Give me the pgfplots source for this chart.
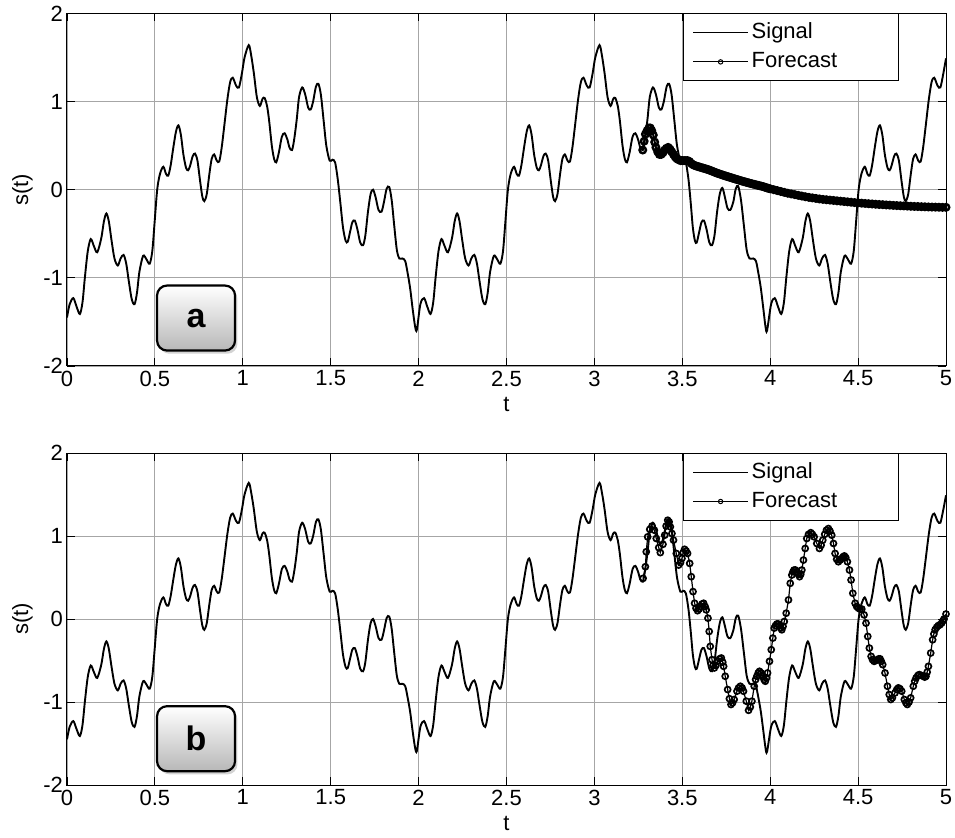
\documentclass[border=0pt]{standalone}
\usepackage{pgfplots}
\pgfplotsset{compat=1.18}
\usepackage{pgfplotstable}
\usepackage{fontspec}
\setmainfont{Liberation Sans}
\usetikzlibrary{shadows}

\pgfplotstableread{
t s
0.000 -1.45
0.015 -1.30
0.036 -1.23
0.055 -1.33
0.073 -1.41
0.088 -1.28
0.102 -0.99
0.118 -0.70
0.135 -0.56
0.153 -0.64
0.172 -0.71
0.195 -0.55
0.210 -0.36
0.224 -0.27
0.238 -0.36
0.253 -0.57
0.270 -0.78
0.289 -0.86
0.305 -0.78
0.322 -0.74
0.337 -0.84
0.351 -1.03
0.368 -1.24
0.384 -1.30
0.398 -1.17
0.412 -0.93
0.433 -0.75
0.452 -0.79
0.470 -0.84
0.485 -0.70
0.498 -0.38
0.513 0.00
0.529 0.18
0.548 0.26
0.563 0.18
0.576 0.16
0.590 0.28
0.605 0.48
0.620 0.66
0.634 0.73
0.648 0.62
0.662 0.40
0.677 0.25
0.689 0.22
0.700 0.27
0.715 0.38
0.728 0.41
0.742 0.33
0.757 0.10
0.770 -0.08
0.781 -0.13
0.795 -0.05
0.810 0.18
0.823 0.35
0.837 0.40
0.852 0.33
0.866 0.32
0.880 0.48
0.895 0.73
0.912 1.02
0.928 1.22
0.943 1.27
0.962 1.18
0.978 1.16
0.995 1.32
1.010 1.50
1.034 1.64
1.048 1.52
1.063 1.32
1.080 1.05
1.097 0.95
1.112 1.03
1.124 1.04
1.138 0.95
1.150 0.78
1.165 0.50
1.178 0.35
1.190 0.31
1.205 0.42
1.222 0.60
1.238 0.64
1.255 0.56
1.265 0.48
1.280 0.45
1.293 0.58
1.307 0.80
1.320 1.05
1.338 1.16
1.355 1.08
1.372 0.93
1.386 0.91
1.400 1.00
1.416 1.17
1.430 1.20
1.444 1.08
1.460 0.78
1.475 0.50
1.494 0.33
1.510 0.34
1.525 0.31
1.540 0.12
1.555 -0.15
1.570 -0.43
1.585 -0.58
1.597 -0.59
1.610 -0.48
1.623 -0.37
1.637 -0.35
1.652 -0.45
1.668 -0.60
1.684 -0.63
1.697 -0.52
1.712 -0.25
1.727 -0.05
1.741 0.00
1.756 -0.09
1.772 -0.23
1.789 -0.25
1.803 -0.14
1.818 0.01
1.833 0.03
1.847 -0.12
1.861 -0.40
1.876 -0.68
1.890 -0.78
1.908 -0.78
1.924 -0.81
1.938 -0.95
1.952 -1.12
1.966 -1.35
1.980 -1.55
1.990 -1.59
2.010 -1.30
2.031 -1.23
2.050 -1.33
2.068 -1.41
2.083 -1.28
2.097 -0.99
2.113 -0.70
2.130 -0.56
2.148 -0.64
2.167 -0.71
2.190 -0.55
2.205 -0.36
2.219 -0.27
2.233 -0.36
2.248 -0.57
2.265 -0.78
2.284 -0.86
2.300 -0.78
2.317 -0.74
2.332 -0.84
2.346 -1.03
2.363 -1.24
2.379 -1.30
2.393 -1.17
2.407 -0.93
2.428 -0.75
2.447 -0.79
2.465 -0.84
2.480 -0.70
2.493 -0.38
2.508 0.00
2.524 0.18
2.543 0.26
2.558 0.18
2.571 0.16
2.585 0.28
2.600 0.48
2.615 0.66
2.629 0.73
2.643 0.62
2.657 0.40
2.672 0.25
2.684 0.22
2.695 0.27
2.710 0.38
2.723 0.41
2.737 0.33
2.752 0.10
2.765 -0.08
2.776 -0.13
2.790 -0.05
2.805 0.18
2.818 0.35
2.832 0.40
2.847 0.33
2.861 0.32
2.875 0.48
2.890 0.73
2.907 1.02
2.923 1.22
2.938 1.27
2.957 1.18
2.973 1.16
2.990 1.32
3.005 1.50
3.029 1.64
3.043 1.52
3.058 1.32
3.075 1.05
3.092 0.95
3.107 1.03
3.119 1.04
3.133 0.95
3.145 0.78
3.160 0.50
3.173 0.35
3.185 0.31
3.200 0.42
3.217 0.60
3.233 0.64
3.250 0.56
3.260 0.48
3.275 0.45
3.288 0.58
3.302 0.80
3.315 1.05
3.333 1.16
3.350 1.08
3.367 0.93
3.381 0.91
3.395 1.00
3.411 1.17
3.425 1.20
3.439 1.08
3.455 0.78
3.470 0.50
3.489 0.33
3.505 0.34
3.520 0.31
3.535 0.12
3.548 -0.15
3.560 -0.43
3.572 -0.58
3.582 -0.60
3.596 -0.48
3.609 -0.37
3.623 -0.35
3.638 -0.45
3.654 -0.60
3.669 -0.63
3.683 -0.52
3.698 -0.25
3.713 -0.05
3.728 0.02
3.743 -0.09
3.757 -0.21
3.773 -0.23
3.790 -0.14
3.804 0.01
3.818 0.04
3.834 -0.12
3.850 -0.40
3.866 -0.68
3.882 -0.78
3.903 -0.78
3.919 -0.81
3.933 -0.95
3.947 -1.12
3.961 -1.35
3.973 -1.55
3.982 -1.60
4.005 -1.30
4.026 -1.23
4.045 -1.33
4.063 -1.41
4.078 -1.28
4.092 -0.99
4.108 -0.70
4.125 -0.56
4.143 -0.64
4.162 -0.71
4.185 -0.55
4.200 -0.36
4.214 -0.27
4.228 -0.36
4.243 -0.57
4.260 -0.78
4.279 -0.86
4.295 -0.78
4.312 -0.74
4.327 -0.84
4.341 -1.03
4.358 -1.24
4.374 -1.30
4.388 -1.17
4.402 -0.93
4.423 -0.75
4.442 -0.79
4.460 -0.84
4.475 -0.70
4.488 -0.38
4.503 0.00
4.519 0.18
4.538 0.26
4.553 0.18
4.566 0.16
4.580 0.28
4.595 0.48
4.610 0.66
4.624 0.73
4.638 0.62
4.652 0.40
4.667 0.25
4.679 0.22
4.690 0.27
4.705 0.38
4.718 0.41
4.732 0.33
4.747 0.10
4.760 -0.08
4.771 -0.13
4.785 -0.05
4.800 0.18
4.813 0.35
4.827 0.40
4.842 0.33
4.856 0.32
4.870 0.48
4.885 0.73
4.902 1.02
4.918 1.22
4.933 1.27
4.952 1.18
4.968 1.16
4.985 1.32
5.000 1.49
}\signal

\pgfplotstableread{
t s
3.275 0.45
3.283 0.55
3.290 0.63
3.300 0.67
3.310 0.70
3.318 0.70
3.326 0.67
3.335 0.62
3.343 0.54
3.350 0.48
3.360 0.43
3.370 0.40
3.380 0.40
3.390 0.42
3.400 0.45
3.410 0.47
3.420 0.48
3.430 0.46
3.440 0.43
3.450 0.40
3.460 0.37
3.470 0.35
3.480 0.34
3.490 0.33
3.500 0.33
3.510 0.33
3.520 0.33
3.530 0.33
3.540 0.32
3.550 0.30
3.560 0.285
3.570 0.275
3.580 0.268
3.590 0.262
3.600 0.256
3.610 0.250
3.620 0.244
3.630 0.238
3.640 0.232
3.650 0.226
3.660 0.218
3.670 0.210
3.680 0.202
3.690 0.194
3.700 0.186
3.710 0.180
3.720 0.173
3.730 0.166
3.740 0.160
3.750 0.153
3.760 0.147
3.770 0.141
3.780 0.135
3.790 0.128
3.800 0.122
3.810 0.116
3.820 0.110
3.830 0.104
3.840 0.098
3.850 0.092
3.860 0.087
3.870 0.081
3.880 0.076
3.890 0.070
3.900 0.065
3.910 0.060
3.920 0.055
3.930 0.050
3.940 0.045
3.950 0.040
3.960 0.035
3.970 0.028
3.980 0.022
3.990 0.015
4.00 0.010
4.02 0.000
4.04 -0.010
4.06 -0.020
4.08 -0.030
4.10 -0.040
4.12 -0.048
4.14 -0.056
4.16 -0.064
4.18 -0.072
4.20 -0.080
4.22 -0.087
4.24 -0.093
4.26 -0.099
4.28 -0.105
4.30 -0.110
4.32 -0.114
4.34 -0.118
4.36 -0.122
4.38 -0.126
4.40 -0.130
4.42 -0.134
4.44 -0.138
4.46 -0.142
4.48 -0.146
4.50 -0.150
4.52 -0.153
4.54 -0.156
4.56 -0.159
4.58 -0.162
4.60 -0.165
4.62 -0.168
4.64 -0.170
4.66 -0.173
4.68 -0.175
4.70 -0.178
4.72 -0.180
4.74 -0.182
4.76 -0.184
4.78 -0.186
4.80 -0.188
4.82 -0.190
4.84 -0.191
4.86 -0.193
4.88 -0.194
4.90 -0.196
4.92 -0.197
4.94 -0.198
4.96 -0.199
4.98 -0.200
5.00 -0.200
}\forecasta

\pgfplotstableread{
t s
3.277 0.49
3.290 0.63
3.295 0.81
3.303 0.99
3.315 1.08
3.328 1.12
3.341 1.07
3.352 0.97
3.366 0.86
3.375 0.80
3.390 0.90
3.400 1.01
3.408 1.12
3.417 1.19
3.425 1.17
3.432 1.11
3.441 1.03
3.450 0.95
3.466 0.79
3.479 0.65
3.490 0.68
3.498 0.73
3.505 0.80
3.513 0.84
3.522 0.82
3.530 0.79
3.542 0.67
3.551 0.51
3.561 0.33
3.570 0.19
3.578 0.13
3.587 0.10
3.595 0.12
3.602 0.15
3.612 0.18
3.621 0.19
3.630 0.15
3.636 0.11
3.646 0.01
3.653 -0.15
3.659 -0.33
3.669 -0.49
3.675 -0.56
3.682 -0.59
3.691 -0.56
3.700 -0.51
3.712 -0.48
3.722 -0.47
3.730 -0.52
3.735 -0.57
3.744 -0.69
3.758 -0.85
3.768 -0.96
3.777 -1.03
3.786 -1.01
3.795 -0.97
3.811 -0.87
3.820 -0.83
3.830 -0.81
3.840 -0.83
3.848 -0.87
3.864 -0.99
3.877 -1.10
3.887 -1.06
3.896 -0.99
3.909 -0.81
3.917 -0.73
3.924 -0.69
3.932 -0.65
3.939 -0.63
3.948 -0.65
3.958 -0.69
3.965 -0.73
3.972 -0.75
3.979 -0.71
3.985 -0.65
3.996 -0.51
4.006 -0.37
4.015 -0.23
4.023 -0.11
4.030 -0.08
4.038 -0.06
4.046 -0.06
4.053 -0.08
4.060 -0.11
4.066 -0.13
4.073 -0.09
4.080 -0.03
4.091 0.07
4.104 0.23
4.114 0.43
4.123 0.53
4.130 0.57
4.136 0.59
4.144 0.59
4.152 0.57
4.160 0.54
4.167 0.51
4.174 0.54
4.180 0.59
4.189 0.71
4.199 0.85
4.208 0.97
4.218 1.02
4.231 1.04
4.240 1.02
4.250 0.99
4.265 0.91
4.280 0.85
4.290 0.89
4.299 0.95
4.310 1.02
4.320 1.07
4.331 1.09
4.340 1.06
4.350 1.01
4.360 0.91
4.369 0.79
4.378 0.72
4.388 0.69
4.397 0.71
4.407 0.73
4.415 0.75
4.422 0.76
4.430 0.74
4.439 0.69
4.451 0.59
4.460 0.47
4.470 0.31
4.483 0.19
4.492 0.15
4.502 0.13
4.511 0.12
4.521 0.12
4.534 0.05
4.545 -0.05
4.555 -0.21
4.564 -0.35
4.574 -0.45
4.582 -0.49
4.591 -0.51
4.600 -0.50
4.610 -0.49
4.618 -0.48
4.625 -0.48
4.632 -0.51
4.640 -0.55
4.653 -0.65
4.667 -0.81
4.677 -0.91
4.686 -0.97
4.695 -0.95
4.710 -0.89
4.720 -0.85
4.729 -0.83
4.738 -0.84
4.748 -0.87
4.763 -0.97
4.772 -1.01
4.780 -1.03
4.790 -1.00
4.799 -0.95
4.814 -0.81
4.822 -0.75
4.830 -0.71
4.840 -0.68
4.848 -0.67
4.860 -0.68
4.871 -0.69
4.879 -0.70
4.886 -0.69
4.893 -0.64
4.900 -0.57
4.913 -0.41
4.924 -0.25
4.931 -0.18
4.938 -0.13
4.947 -0.10
4.956 -0.08
4.965 -0.07
4.975 -0.05
4.983 -0.02
4.989 0.00
5.000 0.06
}\forecastb

\tikzset{
  lab/.style={draw=black, line width=1.1pt, rounded corners=5pt, top color=white, bottom color=black!28,
    minimum width=39pt, minimum height=32.5pt, inner sep=0pt,
    drop shadow={shadow xshift=1.2pt, shadow yshift=-1.6pt, opacity=0.35},
    font=\fontsize{17}{19}\selectfont\bfseries},
}

\pgfplotsset{
  panel/.style={
    scale only axis,
    width=439.5pt,
    xmin=0, xmax=5, ymin=-2, ymax=2,
    xtick={0,0.5,1,1.5,2,2.5,3,3.5,4,4.5,5},
    xticklabels={0,0.5,1,1.5,2,2.5,3,3.5,4,4.5,5},
    ytick={-2,-1,0,1,2},
    yticklabels={-2,-1,0,1,2},
    tick pos=both,
    tick align=inside,
    major tick length=4pt,
    tick style={black, line width=0.4pt},
    axis line style={line width=0.5pt},
    grid=major,
    major grid style={black!35, line width=0.45pt},
    ticklabel style={font=\fontsize{11}{13}\selectfont},
    xticklabel style={yshift=1.2pt},
    yticklabel style={xshift=1.5pt},
    label style={font=\fontsize{11}{13}\selectfont},
    xlabel={t}, ylabel={s(t)},
    legend cell align=left,
    legend image code/.code={\draw[mark repeat=2,mark phase=2,##1,line width=0.6pt,mark size=1.1pt,mark options={line width=0.5pt}] plot coordinates {(0pt,0pt) (13.75pt,0pt) (27.5pt,0pt)};},
    legend style={at={(0.7008,1)}, anchor=north west, draw=black, line width=0.5pt,
      inner xsep=4.5pt, inner ysep=2.25pt, row sep=0pt,
      font=\fontsize{11}{13}\selectfont,
      nodes={inner xsep=1.5pt, inner ysep=2pt, text height=8pt, text depth=2.5pt}},
  },
  sig/.style={black, line width=0.95pt, smooth, tension=0.5, no marks},
  fca/.style={black, line width=1pt, mark=o, mark size=1.6pt, mark options={line width=1.25pt, solid}},
  fcb/.style={black, line width=0.6pt, mark=o, mark size=1.5pt, mark options={line width=0.85pt, solid}},
}

\begin{document}
\begin{tikzpicture}
\path[use as bounding box] (0,0) rectangle (477.5pt,418.5pt);

\begin{axis}[panel, height=176.3pt, at={(33.5pt,235.5pt)}, anchor=south west,
  xlabel style={at={(axis description cs:0.5,-0.108)}, anchor=center},
  ylabel style={at={(axis description cs:-0.0506,0.5)}, anchor=center}]
\addplot[sig] table[x=t,y=s] {\signal};
\addlegendentry{\makebox[67.5pt][l]{Signal}}
\addplot[fca] table[x=t,y=s] {\forecasta};
\addlegendentry{\makebox[67.5pt][l]{Forecast}}
\node[lab] at (rel axis cs:0.1468,0.136) {a};
\end{axis}

\begin{axis}[panel, height=166pt, at={(33.5pt,26pt)}, anchor=south west,
  xlabel style={at={(axis description cs:0.5,-0.116)}, anchor=center},
  ylabel style={at={(axis description cs:-0.0506,0.5)}, anchor=center}]
\addplot[sig] table[x=t,y=s] {\signal};
\addlegendentry{\makebox[67.5pt][l]{Signal}}
\addplot[fcb] table[x=t,y=s] {\forecastb};
\addlegendentry{\makebox[67.5pt][l]{Forecast}}
\node[lab] at (rel axis cs:0.1468,0.1395) {b};
\end{axis}
\end{tikzpicture}
\end{document}
